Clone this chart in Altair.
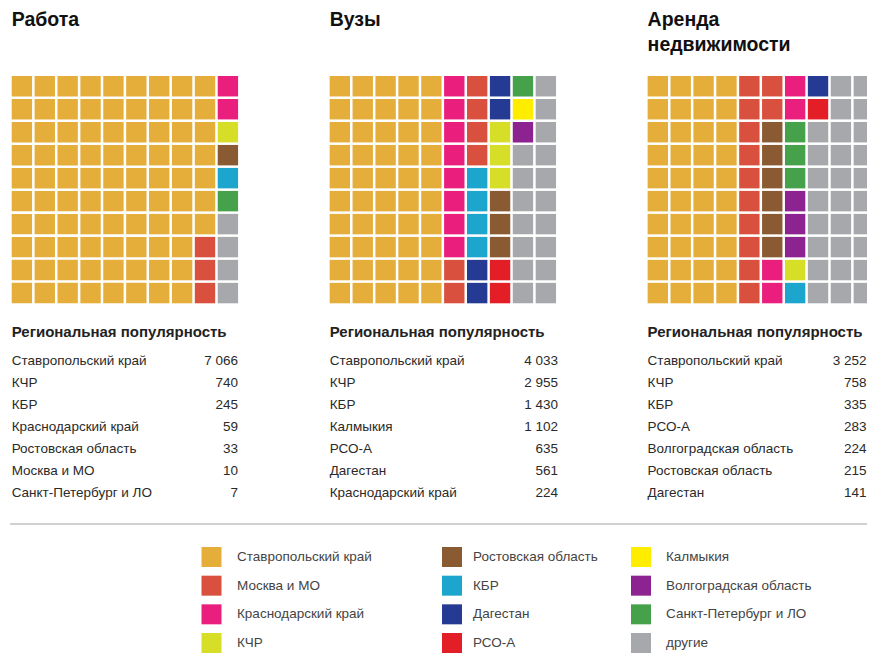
import altair as alt
import pandas as pd

# ---------------- data ----------------
PANEL_TITLES = ["Работа", "Вузы", "Аренда\nнедвижимости"]
HEADER = "Региональная популярность"

CATEGORIES = ["Ставропольский край", "Москва и МО", "Краснодарский край", "КЧР",
              "Ростовская область", "КБР", "Дагестан", "РСО-А",
              "Калмыкия", "Волгоградская область", "Санкт-Петербург и ЛО", "другие"]
CODES = ["S", "M", "K", "C", "R", "B", "D", "A", "L", "V", "P", "O"]
COLORS = ["#E5AE3A", "#D9503F", "#E91E7D", "#D6DE28",
          "#8A5A32", "#1CA6CE", "#253A93", "#E41E26",
          "#FFED00", "#8C2390", "#46A24A", "#A6A8AB"]

# waffle cells, row by row from the top (codes as above)
GRID_WORK = ["SSSSSSSSSK", "SSSSSSSSSK", "SSSSSSSSSC", "SSSSSSSSSR", "SSSSSSSSSB",
             "SSSSSSSSSP", "SSSSSSSSSO", "SSSSSSSSMO", "SSSSSSSSMO", "SSSSSSSSMO"]
GRID_UNI = ["SSSSSKMDPO", "SSSSSKMDLO", "SSSSSKMCVO", "SSSSSKMCOO", "SSSSSKBCOO",
            "SSSSSKBROO", "SSSSSKBROO", "SSSSSKBROO", "SSSSSMDAOO", "SSSSSMDAOO"]
GRID_RENT = ["SSSSMMKDOO", "SSSSMMKAOO", "SSSSMRPOOO", "SSSSMRPOOO", "SSSSMRPOOO",
             "SSSSMRVOOO", "SSSSMRVOOO", "SSSSMRVOOO", "SSSSMKCOOO", "SSSSMKBOOO"]
GRIDS = [GRID_WORK, GRID_UNI, GRID_RENT]

WORK_NAMES = ["Ставропольский край", "КЧР", "КБР", "Краснодарский край",
              "Ростовская область", "Москва и МО", "Санкт-Петербург и ЛО"]
WORK_VALUES = [7066, 740, 245, 59, 33, 10, 7]
UNI_NAMES = ["Ставропольский край", "КЧР", "КБР", "Калмыкия", "РСО-А",
             "Дагестан", "Краснодарский край"]
UNI_VALUES = [4033, 2955, 1430, 1102, 635, 561, 224]
RENT_NAMES = ["Ставропольский край", "КЧР", "КБР", "РСО-А",
              "Волгоградская область", "Ростовская область", "Дагестан"]
RENT_VALUES = [3252, 758, 335, 283, 224, 215, 141]
TABLES = [(WORK_NAMES, WORK_VALUES), (UNI_NAMES, UNI_VALUES), (RENT_NAMES, RENT_VALUES)]

# ---------------- tables for the library ----------------
code_to_cat = dict(zip(CODES, CATEGORIES))
cells = []
for p, grid in enumerate(GRIDS):
    for r, line in enumerate(grid):
        for c, code in enumerate(line):
            cells.append({"panel": p, "row": r, "col": c, "cat": code_to_cat[code]})
cells_df = pd.DataFrame(cells)

rows = []
for p, (names, values) in enumerate(TABLES):
    for i, (n, v) in enumerate(zip(names, values)):
        rows.append({"panel": p, "rank": i, "name": n,
                     "value": f"{v:,}".replace(",", " ")})
table_df = pd.DataFrame(rows)

titles_df = pd.DataFrame({"panel": [0, 1, 2], "title": PANEL_TITLES, "header": [HEADER] * 3})

legend_df = pd.DataFrame({"cat": CATEGORIES,
                          "lcol": [i // 4 for i in range(len(CATEGORIES))],
                          "lrow": [i % 4 for i in range(len(CATEGORIES))]})

# ---------------- scales ----------------
FONT = "Liberation Sans, Arial, sans-serif"

panel_scale = alt.Scale(type="band", domain=[0, 1, 2], range=[3.7, 866],
                        paddingInner=0.288, paddingOuter=0)
color_scale = alt.Scale(domain=CATEGORIES, range=COLORS)

waffle = alt.Chart(cells_df).mark_rect().encode(
    x=alt.X("panel:O", scale=panel_scale, axis=None),
    xOffset=alt.XOffset("col:O", scale=alt.Scale(domain=list(range(10)),
                                                 paddingInner=0.11, paddingOuter=0)),
    y=alt.Y("row:O", scale=alt.Scale(domain=list(range(10)), range=[68, 295.3],
                                     paddingInner=0.11, paddingOuter=0), axis=None),
    color=alt.Color("cat:N", scale=color_scale, legend=None),
)

titles = alt.Chart(titles_df).mark_text(
    align="left", baseline="alphabetic", fontSize=19.5, fontWeight="bold",
    font=FONT, lineBreak="\n", lineHeight=25, color="#111111"
).encode(
    x=alt.X("panel:O", scale=panel_scale, bandPosition=0, axis=None),
    y=alt.value(18),
    text="title:N",
)

headers = alt.Chart(titles_df).mark_text(
    align="left", baseline="middle", fontSize=15, fontWeight="bold",
    font=FONT, color="#222222"
).encode(
    x=alt.X("panel:O", scale=panel_scale, bandPosition=0, axis=None),
    y=alt.value(324),
    text="header:N",
)

rank_scale = alt.Scale(type="point", domain=list(range(7)), range=[353, 485], padding=0)

names = alt.Chart(table_df).mark_text(
    align="left", baseline="middle", fontSize=13.5, font=FONT, color="#2a2a2a"
).encode(
    x=alt.X("panel:O", scale=panel_scale, bandPosition=0, axis=None),
    y=alt.Y("rank:O", scale=rank_scale, axis=None),
    text="name:N",
)

# right edge of each value column (last one kept inside the picture)
values = alt.Chart(table_df).mark_text(
    align="right", baseline="middle", fontSize=13.5, font=FONT, color="#2a2a2a"
).encode(
    x=alt.X("panel:Q", scale=alt.Scale(domain=[0, 1, 2], range=[230, 550, 858.5]), axis=None),
    y=alt.Y("rank:O", scale=rank_scale, axis=None),
    text="value:N",
)

separator = alt.Chart(titles_df).mark_rule(color="#cfcfcf", strokeWidth=1.5).encode(
    x=alt.value(2), x2=alt.value(867), y=alt.value(516)
)

leg_y = alt.Scale(domain=[0, 3], range=[549, 635])

swatches = alt.Chart(legend_df).mark_square(size=400, opacity=1).encode(
    x=alt.X("lcol:Q", scale=alt.Scale(domain=[0, 1, 2], range=[203.5, 444, 633]), axis=None),
    y=alt.Y("lrow:Q", scale=leg_y, axis=None),
    color=alt.Color("cat:N", scale=color_scale, legend=None),
)

leg_labels = alt.Chart(legend_df).mark_text(
    align="left", baseline="middle", fontSize=13.5, font=FONT, color="#444444"
).encode(
    x=alt.X("lcol:Q", scale=alt.Scale(domain=[0, 1, 2], range=[229, 465, 658]), axis=None),
    y=alt.Y("lrow:Q", scale=leg_y, axis=None),
    text="cat:N",
)

chart = alt.layer(
    waffle, titles, headers, names, values, separator, swatches, leg_labels
).resolve_scale(
    x="independent", y="independent", color="shared"
).properties(
    width=859, height=649, autosize="none", padding=0, background="white"
).configure_view(stroke=None)

chart.save("out.html", embed_options={"renderer": "svg", "actions": False})
